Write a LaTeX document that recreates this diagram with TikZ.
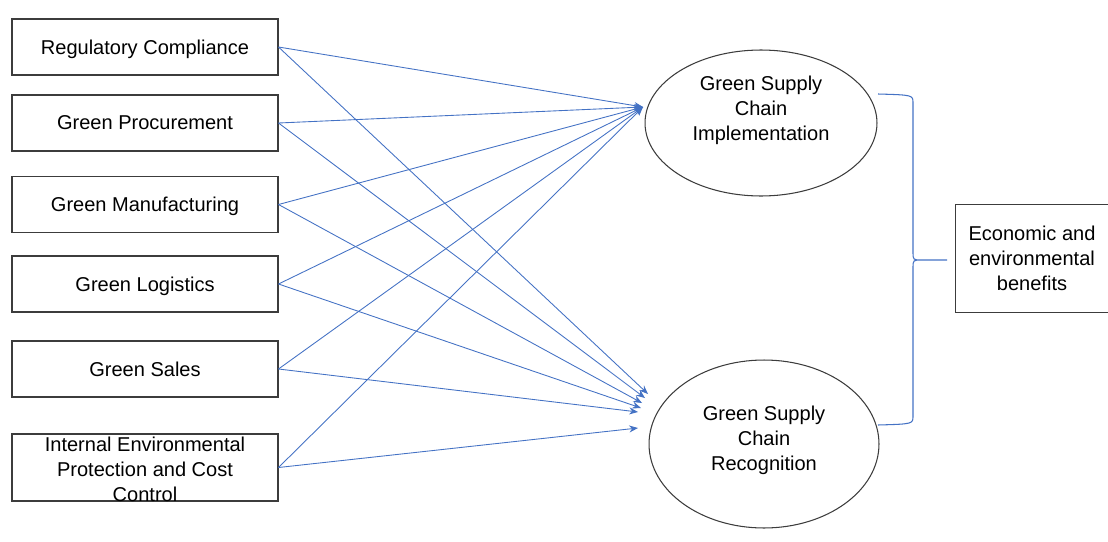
\documentclass[tikz,border=0pt]{standalone}
\usepackage{fontspec}
\setmainfont{Liberation Sans}
\usetikzlibrary{arrows.meta,shapes.geometric}
\definecolor{linkblue}{RGB}{68,114,196}
\definecolor{framegray}{RGB}{60,60,60}
\tikzset{
  factor/.style={draw=framegray,line width=0.6pt,minimum width=5.32cm,minimum height=1.12cm,inner sep=0pt,text depth=0pt,align=center},
  outcome/.style={draw=framegray,line width=0.6pt,ellipse,inner sep=0pt},
  link/.style={draw=linkblue,line width=0.5pt,-{Stealth[length=5pt,width=4pt]}}
}

\begin{document}
\begin{tikzpicture}[x=0.02cm,y=-0.02cm,font=\fontsize{11.4}{14.2}\selectfont]
\useasboundingbox (0,0) rectangle (1108,541);
\node[factor] (rc) at (145,47) {Regulatory Compliance};
\node[factor] (gp) at (145,123) {Green Procurement};
\node[factor] (gm) at (145,204.5) {Green Manufacturing};
\node[factor] (gl) at (145,284) {Green Logistics};
\node[factor] (gs) at (145,369) {Green Sales};
\node[factor,minimum height=1.34cm,
  label={[align=center,yshift=-0.03cm]center:{Internal Environmental\\Protection and Cost\\Control}}] (ie) at (145,467.5) {};

\node[outcome,minimum width=4.64cm,minimum height=2.92cm,
  label={[align=center,yshift=0.26cm]center:{Green Supply\\Chain\\Implementation}}] (gsci) at (761,123) {};
\node[outcome,minimum width=4.6cm,minimum height=3.36cm,
  label={[align=center,yshift=0.08cm]center:{Green Supply\\Chain\\Recognition}}] (gscr) at (764,444) {};

\node[minimum width=3.04cm,minimum height=2.14cm,inner sep=0pt,align=center] (eco) at (1032,258.5)
  {Economic and\\environmental\\benefits};
\draw[framegray,line width=0.6pt] (eco.north east) -- (eco.north west) -- (eco.south west) -- (eco.south east);

\coordinate (gsci-in) at (643,107);
\coordinate (r1) at (648,394);
\coordinate (r2) at (645,398);
\coordinate (r3) at (642,403);
\coordinate (r4) at (641,408);
\coordinate (r5) at (638,412);
\coordinate (r6) at (638,428);

\foreach \src in {rc,gp,gm,gl,gs,ie}
  \draw[link] (\src.east) -- (gsci-in);
\foreach \src/\tgt in {rc/r1,gp/r2,gm/r3,gl/r4,gs/r5,ie/r6}
  \draw[link] (\src.east) -- (\tgt);

\coordinate (brace-tip) at (947,260);
\draw[linkblue,line width=0.6pt]
  (878,94) .. controls (913,95) .. (913,103) -- (913,252)
  .. controls (913,260) .. (922,260) -- (brace-tip)
  (922,260) .. controls (913,260) .. (913,268) -- (913,416)
  .. controls (913,424) .. (878,425);
\end{tikzpicture}
\end{document}
